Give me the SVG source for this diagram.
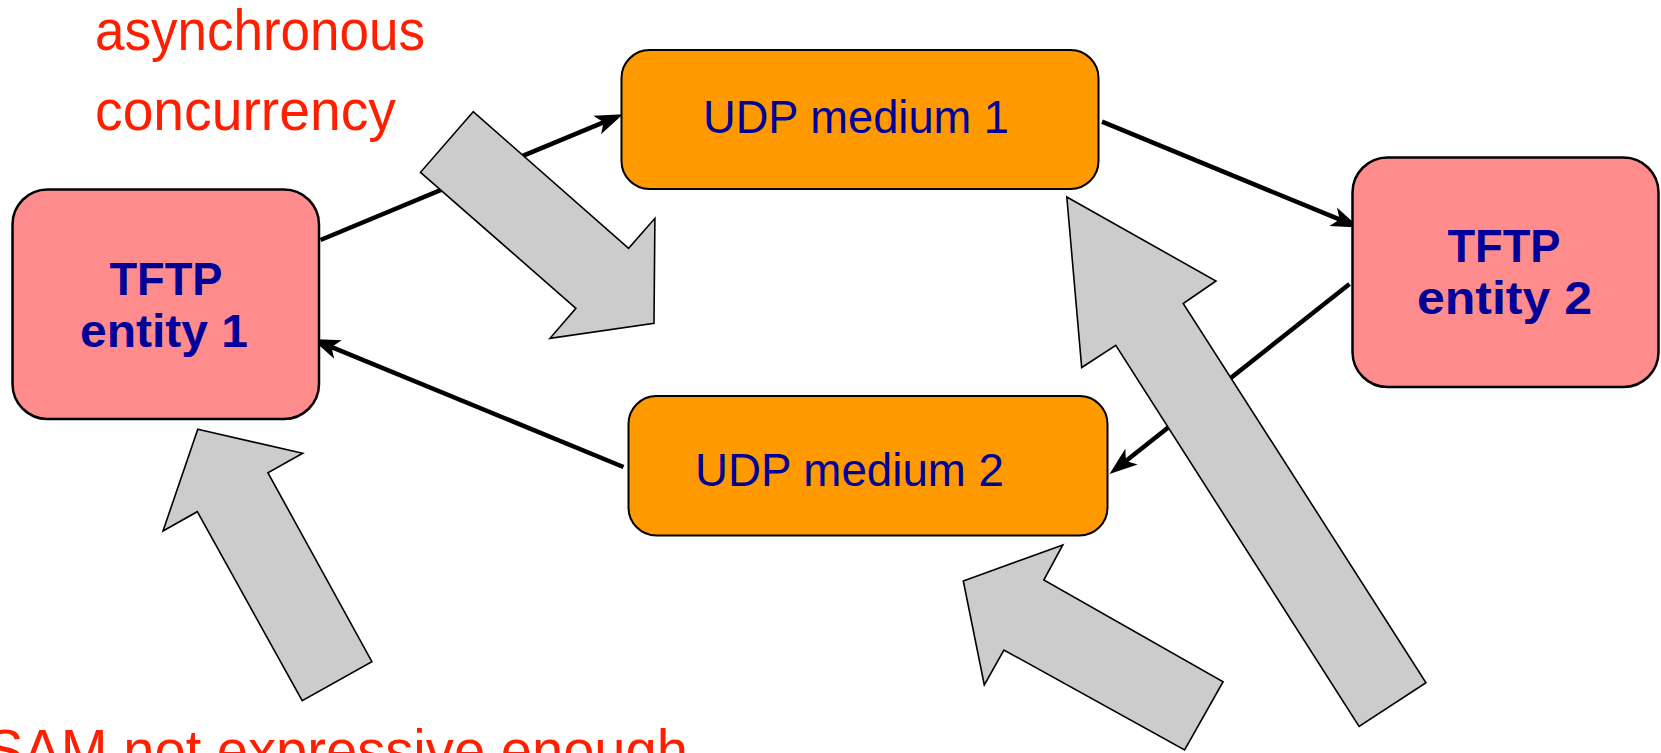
<svg xmlns="http://www.w3.org/2000/svg" width="1661" height="753" viewBox="0 0 1661 753">
<style>
.entity{fill:#FF8C8C;stroke:#000;stroke-width:2.5}
.medium{fill:#FF9900;stroke:#000;stroke-width:2}
.btxt{font-family:"Liberation Sans",Arial,sans-serif;font-size:46px;font-weight:bold;fill:#000099;text-anchor:middle}
.mtxt{font-family:"Liberation Sans",Arial,sans-serif;font-size:46px;fill:#000099}
.note{font-family:"Liberation Sans",Arial,sans-serif;font-size:57px;fill:#FF1E00}
.conn{fill:none;stroke:#000;stroke-width:4.5}
.block{fill:#CCCCCC;stroke:#000;stroke-width:1.6;stroke-linejoin:miter}
</style>
<defs>
<marker id="head" markerUnits="userSpaceOnUse" viewBox="-16 -12 32 24" refX="0" refY="0" markerWidth="32" markerHeight="24" orient="auto" overflow="visible">
<path d="M14,0 L-14,-10 L-7,0 L-14,10 Z" fill="#000"/>
</marker>
</defs>
<rect width="1661" height="753" fill="#fff"/>
<g id="connectors">
<line class="conn" x1="320.5" y1="240" x2="610.1" y2="119.6" marker-end="url(#head)"/>
<line class="conn" x1="1102" y1="121.7" x2="1346.1" y2="222.2" marker-end="url(#head)"/>
<line class="conn" x1="1349.5" y1="284" x2="1120.5" y2="465.3" marker-end="url(#head)"/>
<line class="conn" x1="623.5" y1="467" x2="325" y2="344.3" marker-end="url(#head)"/>
</g>
<g id="tftp1">
<rect class="entity" x="12.5" y="189.5" width="306.5" height="229.5" rx="35" ry="35"/>
<text class="btxt" x="166" y="295" textLength="113" lengthAdjust="spacingAndGlyphs">TFTP</text>
<text class="btxt" x="164" y="347" textLength="168" lengthAdjust="spacingAndGlyphs">entity 1</text>
</g>
<g id="udp1">
<rect class="medium" x="621.5" y="50" width="477" height="139" rx="28" ry="28"/>
<text class="mtxt" x="703" y="133" textLength="306" lengthAdjust="spacingAndGlyphs">UDP medium 1</text>
</g>
<g id="tftp2">
<rect class="entity" x="1352.5" y="157.5" width="306" height="229.5" rx="35" ry="35"/>
<text class="btxt" x="1504" y="262" textLength="113" lengthAdjust="spacingAndGlyphs">TFTP</text>
<text class="btxt" x="1504.5" y="314" textLength="175" lengthAdjust="spacingAndGlyphs">entity 2</text>
</g>
<g id="udp2">
<rect class="medium" x="628.5" y="396" width="479" height="139.5" rx="28" ry="28"/>
<text class="mtxt" x="695" y="486" textLength="309" lengthAdjust="spacingAndGlyphs">UDP medium 2</text>
</g>
<g id="block-arrows">
<polygon class="block" points="473.2,111.7 420.5,172.3 575.9,308.3 550,338.3 654,323.3 654.9,218.3 628.6,248.3"/>
<polygon class="block" points="197.8,429.3 302.7,453.3 267.9,472.7 371.9,661.7 302.2,700.7 197.3,511.7 163,531"/>
<polygon class="block" points="1062.8,545 963.3,581 984.3,685 1003.9,650 1184.6,750 1223.1,681.7 1043.8,580"/>
<polygon class="block" points="1066.8,197 1216,281 1183.2,303.5 1426,682.7 1359.1,726.5 1115.8,345.3 1081.7,367.5"/>
</g>
<g id="notes">
<text class="note" x="95" y="50" textLength="330" lengthAdjust="spacingAndGlyphs">asynchronous</text>
<text class="note" x="95" y="130" textLength="301" lengthAdjust="spacingAndGlyphs">concurrency</text>
<text class="note" x="-14" y="770" textLength="702" lengthAdjust="spacingAndGlyphs">SAM not expressive enough</text>
</g>
</svg>
